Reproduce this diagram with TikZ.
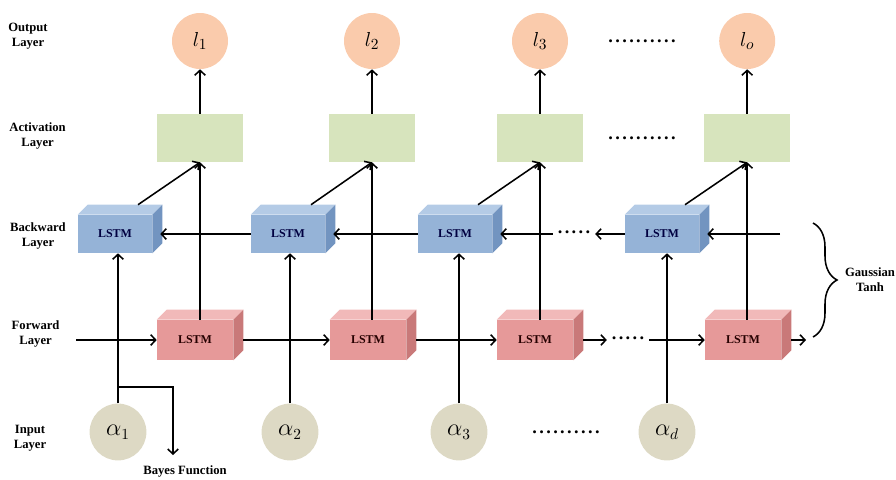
\documentclass[tikz,border=0pt]{standalone}
\usepackage{fontspec}
\setmainfont{Liberation Serif}
\usepackage{amsmath}
\usetikzlibrary{arrows.meta,decorations.pathreplacing}

\definecolor{outfill}{RGB}{250,203,172}
\definecolor{actfill}{RGB}{215,228,189}
\definecolor{infill}{RGB}{221,217,196}
\definecolor{bwdfront}{RGB}{149,179,215}
\definecolor{bwdtop}{RGB}{180,203,230}
\definecolor{bwdside}{RGB}{114,148,192}
\definecolor{fwdfront}{RGB}{230,153,153}
\definecolor{fwdtop}{RGB}{241,185,185}
\definecolor{fwdside}{RGB}{201,121,121}

\tikzset{
  arr/.style={line width=1.1pt,-{Straight Barb[length=3.5pt,width=7.5pt]}},
  lbl/.style={font=\fontsize{9}{10.6}\selectfont\bfseries,align=center},
  dots/.style={font=\fontsize{13}{13}\selectfont\bfseries},
  outc/.style={circle,fill=outfill,minimum size=1.4cm,inner sep=0pt,font=\fontsize{15}{15}\selectfont},
  inc/.style={circle,fill=infill,minimum size=1.42cm,inner sep=0pt,font=\fontsize{16}{16}\selectfont},
  actbox/.style={rectangle,fill=actfill,minimum width=2.15cm,minimum height=1.2cm},
  bwdbox/.style={rectangle,fill=bwdfront,minimum width=1.85cm,minimum height=0.95cm,inner sep=0pt,
    font=\fontsize{8.5}{9}\selectfont\bfseries,text=black!75!blue},
  fwdbox/.style={rectangle,fill=fwdfront,minimum width=1.9cm,minimum height=1cm,inner sep=0pt,
    font=\fontsize{8.5}{9}\selectfont\bfseries,text=black!85!red}
}

\begin{document}
\begin{tikzpicture}
  \useasboundingbox (0,0) rectangle (22.4,-11.975);

  % layer names
  \node[lbl] (lout) at (0.7,-0.91) {Output\\Layer};
  \node[lbl] (lact) at (0.94,-3.39) {Activation\\Layer};
  \node[lbl] (lbwd) at (0.95,-5.9) {Backward\\Layer};
  \node[lbl] (lfwd) at (0.89,-8.36) {Forward\\Layer};
  \node[lbl] (lin) at (0.75,-10.96) {Input\\Layer};

  % output layer
  \node[outc] (o1) at (5.0,-1.025) {$l_1$};
  \node[outc] (o2) at (9.3,-1.025) {$l_2$};
  \node[outc] (o3) at (13.5,-1.025) {$l_3$};
  \node[outc] (o4) at (18.68,-1.025) {$l_o$};
  \node[dots] (odots) at (16.05,-1.025) {.\kern1.7pt.\kern1.7pt.\kern1.7pt.\kern1.7pt.\kern1.7pt.\kern1.7pt.\kern1.7pt.\kern1.7pt.\kern1.7pt.};

  % activation layer
  \node[actbox] (act1) at (5.0,-3.45) {};
  \node[actbox] (act2) at (9.3,-3.45) {};
  \node[actbox] (act3) at (13.5,-3.45) {};
  \node[actbox] (act4) at (18.68,-3.45) {};
  \node[dots] (adots) at (16.05,-3.45) {.\kern1.7pt.\kern1.7pt.\kern1.7pt.\kern1.7pt.\kern1.7pt.\kern1.7pt.\kern1.7pt.\kern1.7pt.\kern1.7pt.};

  % backward layer
  \node[bwdbox] (b1) at (2.875,-5.85) {LSTM};
  \node[bwdbox] (b2) at (7.2,-5.85) {LSTM};
  \node[bwdbox] (b3) at (11.375,-5.85) {LSTM};
  \node[bwdbox] (b4) at (16.55,-5.85) {LSTM};
  \node[dots] (bdots) at (14.35,-5.8) {.\kern1.7pt.\kern1.7pt.\kern1.7pt.\kern1.7pt.};
  \foreach \n in {b1,b2,b3,b4}{
    \fill[bwdtop] (\n.north west) -- ++(0.25,0.25) -- ([shift={(0.25,0.25)}]\n.north east) -- (\n.north east) -- cycle;
    \fill[bwdside] (\n.north east) -- ++(0.25,0.25) -- ([shift={(0.25,0.25)}]\n.south east) -- (\n.south east) -- cycle;
  }

  % forward layer
  \node[fwdbox] (f1) at (4.875,-8.5) {LSTM};
  \node[fwdbox] (f2) at (9.2,-8.5) {LSTM};
  \node[fwdbox] (f3) at (13.375,-8.5) {LSTM};
  \node[fwdbox] (f4) at (18.575,-8.5) {LSTM};
  \node[dots] (fdots) at (15.7,-8.45) {.\kern1.7pt.\kern1.7pt.\kern1.7pt.\kern1.7pt.};
  \foreach \n in {f1,f2,f3,f4}{
    \fill[fwdtop] (\n.north west) -- ++(0.25,0.25) -- ([shift={(0.25,0.25)}]\n.north east) -- (\n.north east) -- cycle;
    \fill[fwdside] (\n.north east) -- ++(0.25,0.25) -- ([shift={(0.25,0.25)}]\n.south east) -- (\n.south east) -- cycle;
  }

  % input layer
  \node[inc] (in1) at (2.95,-10.8) {$\alpha_1$};
  \node[inc] (in2) at (7.25,-10.8) {$\alpha_2$};
  \node[inc] (in3) at (11.475,-10.8) {$\alpha_3$};
  \node[inc] (in4) at (16.675,-10.8) {$\alpha_d$};
  \node[dots] (idots) at (14.15,-10.8) {.\kern1.7pt.\kern1.7pt.\kern1.7pt.\kern1.7pt.\kern1.7pt.\kern1.7pt.\kern1.7pt.\kern1.7pt.\kern1.7pt.};

  % forward direction
  \coordinate (fstart) at (1.9,-8.5);
  \coordinate (fend) at (20.15,-8.5);
  \draw[arr] (fstart) -- (f1.west);
  \draw[arr] ([xshift=0.25cm]f1.east) -- (f2.west);
  \draw[arr] ([xshift=0.25cm]f2.east) -- (f3.west);
  \draw[arr] ([xshift=0.25cm]f3.east) -- (fdots.west |- f3.east);
  \draw[arr] (fdots.east |- f4.west) -- (f4.west);
  \draw[arr] ([xshift=0.25cm]f4.east) -- (fend);

  % backward direction
  \coordinate (bstart) at (19.5,-5.85);
  \draw[arr] (bstart) -- ([xshift=0.2cm]b4.east);
  \draw[arr] (b4.west) -- (bdots.east |- b4.west);
  \draw[arr] (bdots.west |- b3.east) -- ([xshift=0.2cm]b3.east);
  \draw[arr] (b3.west) -- ([xshift=0.2cm]b2.east);
  \draw[arr] (b2.west) -- ([xshift=0.2cm]b1.east);

  % inputs to backward cells
  \draw[arr] (in1.north) -- (in1.north |- b1.south);
  \draw[arr] (in2.north) -- (in2.north |- b2.south);
  \draw[arr] (in3.north) -- (in3.north |- b3.south);
  \draw[arr] (in4.north) -- (in4.north |- b4.south);

  % cells to activation, activation to output
  \draw[arr] (f1.north -| act1.south) -- (act1.south);
  \draw[arr] (f2.north -| act2.south) -- (act2.south);
  \draw[arr] (f3.north -| act3.south) -- (act3.south);
  \draw[arr] (f4.north -| act4.south) -- (act4.south);
  \draw[arr] ([shift={(0.575,0.25)}]b1.north) -- (act1.south);
  \draw[arr] ([shift={(0.575,0.25)}]b2.north) -- (act2.south);
  \draw[arr] ([shift={(0.575,0.25)}]b3.north) -- (act3.south);
  \draw[arr] ([shift={(0.575,0.25)}]b4.north) -- (act4.south);
  \draw[arr] (act1.north) -- (o1.south);
  \draw[arr] (act2.north) -- (o2.south);
  \draw[arr] (act3.north) -- (o3.south);
  \draw[arr] (act4.north) -- (o4.south);

  % bayes branch
  \coordinate (split) at (2.95,-9.675);
  \coordinate (bend) at (4.325,-9.675);
  \coordinate (bayesin) at (4.325,-11.375);
  \draw[arr] (split) -- (bend) -- (bayesin);
  \node[lbl] (bayes) at (4.625,-11.775) {Bayes Function};

  % brace
  \coordinate (btop) at (20.325,-5.575);
  \coordinate (bbot) at (20.325,-8.425);
  \draw[line width=1.1pt,decorate,decoration={brace,amplitude=0.6cm}] (btop) -- (bbot);
  \node[lbl] (gt) at (21.75,-7.0) {Gaussian\\Tanh};
\end{tikzpicture}
\end{document}
